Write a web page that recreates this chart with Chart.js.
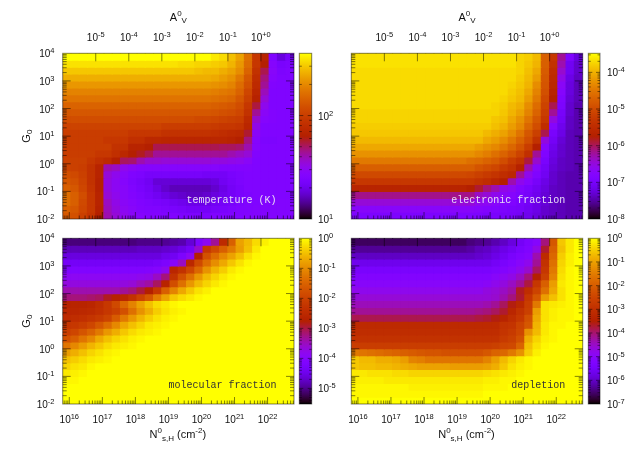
<!DOCTYPE html>
<html>
<head>
<meta charset="utf-8">
<style>
  html, body { margin: 0; background: #fff; }
  #page { position: relative; width: 628px; height: 450px; overflow: hidden; filter: blur(0.4px); }
  canvas { position: absolute; left: 0; top: 0; }
</style>
<script src="https://cdn.jsdelivr.net/npm/chart.js@4"></script>
</head>
<body>
<div id="page"></div>
<script>
// cell edges in log10, columns left to right, rows top to bottom
const logNEdges = [15.8,16.05,16.3,16.55,16.8,17.05,17.3,17.55,17.8,18.05,18.3,18.55,18.8,19.05,19.3,19.55,19.8,20.05,20.3,20.55,20.8,21.05,21.3,21.55,21.8,22.05,22.3,22.55,22.8];
const logG0Edges = [4,3.75,3.5,3.25,3,2.75,2.5,2.25,2,1.75,1.5,1.25,1,0.75,0.5,0.25,0,-0.25,-0.5,-0.75,-1,-1.25,-1.5,-1.75,-2];

// tick exponents
const nTicks = ['16','17','18','19','20','21','22'];
const avTicks = ['-5','-4','-3','-2','-1','+0'];
const g0Ticks = ['-2','-1','0','1','2','3','4'];
const temperatureTicks = ['1','2'];
const electronTicks = ['-8','-7','-6','-5','-4'];
const molecularTicks = ['-5','-4','-3','-2','-1','0'];
const depletionTicks = ['-7','-6','-5','-4','-3','-2','-1','0'];

// colour bar ranges, log10
const temperatureRange = [1, 2.602];
const electronRange = [-8, -3.48];
const molecularRange = [-5.52, 0];
const depletionRange = [-7, 0];

// cell values, as percent of the colour bar's log range
const temperatureCells = [
[100,100,100,100,100,100,100,100,100,100,100,100,100,100,100,100,100,100,97,95,91,86,76,60,52,25,17,22],
[96,96,96,96,96,96,96,96,96,96,96,96,96,96,95,95,94,94,93,92,89,84,75,60,50,27,23,24],
[92,92,92,92,92,92,92,92,92,92,92,92,92,92,92,92,91,90,90,88,86,82,73,58,45,28,24,25],
[88,88,88,88,88,88,88,88,88,88,88,88,88,88,88,88,88,88,87,85,83,78,70,56,42,27,25,25],
[84,84,84,84,84,84,84,84,84,84,84,84,84,84,84,84,84,84,83,82,80,75,68,55,40,26,25,25],
[80,80,80,80,80,80,80,80,80,80,80,80,80,80,80,80,80,80,79,78,77,73,65,53,37,25,25,25],
[77,77,77,77,77,77,77,77,77,77,77,77,77,77,77,77,77,77,76,75,74,70,63,51,34,25,25,25],
[73,73,73,73,73,73,73,73,73,73,73,73,73,73,73,73,73,73,72,71,70,67,60,46,31,25,25,25],
[70,70,70,70,70,70,70,70,70,70,70,70,70,70,70,70,70,70,69,68,67,65,58,40,29,26,25,25],
[67,67,67,67,67,67,67,67,67,67,67,67,67,67,67,67,66,66,65,64,63,62,55,35,27,26,25,25],
[64,64,64,64,64,64,64,64,64,64,64,64,62,62,62,62,62,62,61,60,60,59,53,32,25,25,25,25],
[62,62,62,62,62,62,62,62,60,60,60,60,58,58,58,58,58,58,57,56,55,54,47,29,25,25,25,25],
[62,62,62,62,62,60,60,60,57,57,54,54,53,53,53,53,53,53,53,53,52,50,42,27,24,24,25,25],
[62,62,62,62,62,62,58,58,52,52,50,45,45,45,45,45,45,45,45,44,44,43,38,27,25,25,25,25],
[62,62,62,62,60,60,57,54,50,48,45,40,40,40,40,40,40,40,40,40,38,36,34,26,25,25,25,25],
[63,63,63,60,57,55,50,44,43,38,35,35,34,34,34,34,34,34,33,33,32,31,29,25,25,25,25,25],
[64,63,62,58,52,38,36,31,29,27,27,27,27,27,27,27,27,27,27,26,26,26,26,25,25,25,25,25],
[68,66,63,58,52,34,31,28,25,24,22,22,22,22,22,22,22,21,21,21,23,24,25,25,25,25,25,25],
[70,68,64,58,51,33,30,27,24,22,20,16,16,16,16,16,16,16,17,20,22,24,25,25,25,25,25,25],
[72,70,65,59,51,33,30,28,25,23,21,18,15,13,13,13,13,13,15,18,21,23,25,25,25,25,25,25],
[75,72,67,60,52,34,31,28,26,24,22,20,18,16,15,14,14,15,17,19,21,23,24,25,25,25,25,25],
[75,72,66,60,52,36,32,29,27,25,24,23,22,20,19,18,18,18,20,21,22,24,25,25,26,26,26,26],
[72,70,65,60,51,37,33,30,28,26,25,25,24,23,22,21,21,21,22,23,24,25,25,26,26,26,26,26],
[70,68,63,59,50,38,34,31,29,27,26,26,25,25,24,24,24,24,25,25,25,25,26,26,26,26,26,26]
];
const electronCells = [
[96,96,96,96,96,96,96,96,96,96,96,96,96,96,96,96,96,96,96,96,94,93,90,72,60,40,25,17],
[96,96,96,96,96,96,96,96,96,96,96,96,96,96,96,96,96,96,96,96,94,92,89,72,58,38,20,15],
[95,95,95,95,95,95,95,95,95,95,95,95,95,95,95,95,95,95,95,95,94,91,87,71,56,35,20,15],
[95,95,95,95,95,95,95,95,95,95,95,95,95,95,95,95,95,95,95,95,93,90,85,70,55,32,18,14],
[95,95,95,95,95,95,95,95,95,95,95,95,95,95,95,95,95,95,95,94,92,89,82,69,54,29,17,13],
[95,95,95,95,95,95,95,95,95,95,95,95,95,95,95,95,95,95,95,93,91,87,80,68,52,27,17,13],
[95,95,95,95,95,95,95,95,95,95,95,95,95,95,95,95,95,95,94,92,90,85,78,66,50,25,16,13],
[95,95,95,95,95,95,95,95,95,95,95,95,95,95,95,95,95,94,93,90,88,82,75,64,45,24,15,12],
[94,94,94,94,94,94,94,94,94,94,94,94,94,94,94,94,94,94,92,89,86,80,73,62,40,22,15,12],
[94,94,94,94,94,94,94,94,94,94,94,94,94,94,94,94,94,92,91,87,83,77,70,60,33,21,14,12],
[93,93,93,93,93,93,93,93,93,93,93,93,93,93,93,93,93,91,89,85,81,74,67,56,27,19,14,12],
[92,92,92,92,92,92,92,92,92,92,92,92,92,92,92,92,90,88,86,82,77,70,63,45,23,18,13,12],
[90,90,90,90,90,90,90,90,90,90,90,90,90,90,90,90,87,85,82,78,73,67,58,33,21,16,13,12],
[87,87,87,87,87,87,87,87,87,87,87,87,87,87,87,85,83,81,78,74,69,62,50,27,19,15,13,12],
[83,83,83,83,83,83,83,83,83,83,83,83,83,83,83,81,79,76,73,69,64,57,40,25,18,15,13,12],
[78,78,78,78,78,78,78,78,78,78,78,78,78,78,76,75,73,71,67,62,58,46,35,23,17,14,13,12],
[72,72,72,72,72,72,72,72,72,72,72,72,72,72,72,69,67,65,61,58,51,38,28,21,16,14,13,12],
[66,66,66,66,66,66,66,66,66,66,66,66,66,66,65,63,61,59,56,54,40,31,25,20,15,13,12,12],
[60,60,60,60,60,60,60,60,60,60,60,60,60,60,60,58,56,53,50,38,31,27,22,18,15,13,12,12],
[52,52,52,52,52,52,52,52,52,52,52,52,52,52,50,47,42,38,32,30,26,23,20,17,14,13,12,12],
[41,41,41,41,41,41,41,41,41,41,41,41,41,41,41,36,34,31,29,27,24,22,19,16,14,13,12,12],
[34,34,34,34,34,34,34,34,34,34,34,34,34,34,34,31,30,28,26,25,23,21,18,16,14,13,12,12],
[28,28,28,28,28,28,28,28,28,28,28,28,28,28,28,27,26,25,24,23,22,20,18,15,14,13,12,12],
[24,24,24,24,24,24,24,24,24,24,24,24,24,24,24,24,23,23,22,22,21,19,17,15,14,13,12,12]
];
const molecularCells = [
[8,8,8,8,8,8,8,8,8,9,9,9,10,11,12,16,24,30,40,55,72,86,90,95,98,100,100,100],
[13,13,13,13,13,13,13,13,13,14,14,14,15,16,18,21,35,60,66,72,78,85,91,97,100,100,100,100],
[17,17,17,17,17,17,17,17,17,17,17,17,19,20,24,30,50,68,75,81,86,91,96,99,100,100,100,100],
[21,21,21,21,21,21,21,21,21,21,21,22,24,28,36,54,66,75,82,87,92,96,99,100,100,100,100,100],
[25,25,25,25,25,25,25,25,25,25,26,27,31,53,58,65,74,83,89,93,97,99,100,100,100,100,100,100],
[30,30,30,30,30,30,30,30,30,31,32,36,42,58,68,76,84,90,94,97,99,100,100,100,100,100,100,100],
[33,33,33,33,33,33,33,33,34,37,39,44,52,67,76,84,90,94,97,99,100,100,100,100,100,100,100,100],
[38,38,38,38,38,38,38,40,42,46,50,60,72,80,87,92,96,98,100,100,100,100,100,100,100,100,100,100],
[42,42,42,43,44,48,51,53,58,64,70,79,86,92,95,97,99,100,100,100,100,100,100,100,100,100,100,100],
[51,52,52,53,56,60,66,74,80,86,91,95,97,99,100,100,100,100,100,100,100,100,100,100,100,100,100,100],
[53,53,54,55,57,60,63,68,76,83,88,93,96,98,99,100,100,100,100,100,100,100,100,100,100,100,100,100],
[55,56,57,59,61,64,71,78,84,89,93,96,98,99,100,100,100,100,100,100,100,100,100,100,100,100,100,100],
[59,60,62,65,70,75,81,87,91,94,97,98,99,100,100,100,100,100,100,100,100,100,100,100,100,100,100,100],
[62,65,69,73,78,84,88,92,95,97,98,99,100,100,100,100,100,100,100,100,100,100,100,100,100,100,100,100],
[68,72,77,81,87,91,94,96,98,99,100,100,100,100,100,100,100,100,100,100,100,100,100,100,100,100,100,100],
[77,81,85,89,92,95,97,98,99,100,100,100,100,100,100,100,100,100,100,100,100,100,100,100,100,100,100,100],
[85,88,91,94,96,98,99,100,100,100,100,100,100,100,100,100,100,100,100,100,100,100,100,100,100,100,100,100],
[91,93,95,97,98,99,100,100,100,100,100,100,100,100,100,100,100,100,100,100,100,100,100,100,100,100,100,100],
[94,96,97,99,100,100,100,100,100,100,100,100,100,100,100,100,100,100,100,100,100,100,100,100,100,100,100,100],
[97,98,99,100,100,100,100,100,100,100,100,100,100,100,100,100,100,100,100,100,100,100,100,100,100,100,100,100],
[99,99,100,100,100,100,100,100,100,100,100,100,100,100,100,100,100,100,100,100,100,100,100,100,100,100,100,100],
[100,100,100,100,100,100,100,100,100,100,100,100,100,100,100,100,100,100,100,100,100,100,100,100,100,100,100,100],
[100,100,100,100,100,100,100,100,100,100,100,100,100,100,100,100,100,100,100,100,100,100,100,100,100,100,100,100],
[100,100,100,100,100,100,100,100,100,100,100,100,100,100,100,100,100,100,100,100,100,100,100,100,100,100,100,100]
];
const depletionCells = [
[6,6,6,6,6,6,6,6,6,6,6,6,6,6,8,9,10,12,14,17,21,24,27,42,70,92,97,100],
[10,10,10,10,10,10,10,10,10,10,10,10,10,10,11,13,14,16,18,20,23,25,32,47,72,91,97,100],
[14,14,14,14,14,14,14,14,14,14,14,14,14,14,14,15,16,18,20,23,25,27,38,55,74,93,98,100],
[19,19,19,19,19,19,19,19,19,19,19,19,19,19,19,19,19,21,23,25,28,31,40,58,76,94,98,100],
[23,23,23,23,23,23,23,23,23,23,23,23,23,23,23,23,23,24,26,28,31,35,44,60,78,95,99,100],
[26,26,26,26,26,26,26,26,26,26,26,26,26,26,26,26,26,28,30,32,36,42,50,63,80,96,99,100],
[28,28,28,28,28,28,28,28,28,28,28,28,28,28,28,28,29,31,33,36,40,46,60,72,85,97,99,100],
[31,31,31,31,31,31,31,31,31,31,31,31,31,31,31,31,33,34,36,39,48,56,64,76,87,96,99,100],
[34,34,34,34,34,34,34,34,34,34,34,34,34,34,34,34,34,35,38,42,47,60,70,85,91,96,99,100],
[37,37,37,37,37,37,37,37,37,37,37,37,37,37,37,37,38,40,44,49,54,62,78,96,97,98,99,100],
[40,40,40,40,40,40,40,40,40,40,40,40,40,40,40,41,42,44,47,53,58,63,85,96,98,99,99,100],
[45,45,45,45,45,45,45,45,45,45,45,45,45,45,45,46,47,49,52,56,60,68,87,96,98,99,99,100],
[55,55,55,55,55,55,55,55,55,55,55,55,55,55,55,55,55,55,58,59,64,70,89,97,99,99,100,100],
[56,56,56,56,56,56,56,56,56,56,56,56,56,56,56,56,56,56,59,61,65,83,90,97,99,100,100,100],
[58,58,58,58,58,58,58,58,58,58,58,58,58,58,58,58,58,58,61,63,68,88,94,98,99,100,100,100],
[62,62,62,62,62,62,62,62,62,62,62,62,62,62,62,62,62,63,65,66,73,91,96,99,100,100,100,100],
[78,77,76,75,74,73,72,71,70,69,69,68,68,68,68,68,70,73,74,78,83,93,98,100,100,100,100,100],
[92,90,90,88,88,87,85,80,79,77,77,77,77,77,77,77,80,85,90,94,97,99,100,100,100,100,100,100],
[92,91,91,90,90,89,88,87,86,86,86,86,85,85,85,85,86,88,92,96,98,99,100,100,100,100,100,100],
[97,97,96,96,96,95,95,94,94,94,94,94,94,94,94,94,95,96,97,98,99,100,100,100,100,100,100,100],
[98,98,98,98,97,97,97,97,97,97,97,97,97,97,97,97,98,98,99,99,100,100,100,100,100,100,100,100],
[99,99,99,99,99,99,99,98,98,98,98,98,98,98,98,98,99,99,99,100,100,100,100,100,100,100,100,100],
[99,99,99,99,99,99,99,99,99,99,99,99,99,99,99,99,100,100,100,100,100,100,100,100,100,100,100,100],
[100,100,100,100,100,100,100,100,100,100,100,100,100,100,100,100,100,100,100,100,100,100,100,100,100,100,100,100]
];

const SANS = '"Liberation Sans"';
const TICK_COLOR = 'rgba(0,0,0,0.7)';
const BORDER_COLOR = 'rgba(0,0,0,0.5)';

// gnuplot rgbformulae 7,5,15
function paletteColor(t) {
    const r = Math.sqrt(t);
    const g = t * t * t;
    const b = Math.max(0, Math.sin(2 * Math.PI * t));
    return `rgb(${Math.round(r * 255)},${Math.round(g * 255)},${Math.round(b * 255)})`;
}

// draws a run of text pieces with their own size and vertical shift
function drawRich(ctx, parts, x, y, align) {
    let total = 0;
    parts.forEach(p => {
        ctx.font = `${p.size}px ${SANS}`;
        total += ctx.measureText(p.text).width;
    });
    let px = align === 'right' ? x - total : align === 'center' ? x - total / 2 : x;
    ctx.textAlign = 'left';
    ctx.textBaseline = 'alphabetic';
    ctx.fillStyle = '#111';
    parts.forEach(p => {
        ctx.font = `${p.size}px ${SANS}`;
        ctx.fillText(p.text, px, y + (p.dy || 0));
        px += ctx.measureText(p.text).width;
    });
}

function powerParts(exp) {
    return [{ text: '10', size: 10 }, { text: exp, size: 7.5, dy: -4 }];
}

function isLogInteger(v) {
    const l = Math.log10(v);
    return Math.abs(l - Math.round(l)) < 1e-6;
}

function isCleanMantissa(v) {
    const m = v / Math.pow(10, Math.floor(Math.log10(v) + 1e-9));
    return Math.abs(m - Math.round(m)) < 0.02;
}

function line(ctx, x1, y1, x2, y2) {
    ctx.beginPath();
    ctx.moveTo(x1, y1);
    ctx.lineTo(x2, y2);
    ctx.stroke();
}

// inward ticks, taken from the scale's own tick list
function drawInwardTicks(ctx, scale, area, major, minor, sides, skipMinor) {
    ctx.strokeStyle = TICK_COLOR;
    ctx.lineWidth = 0.7;
    scale.ticks.forEach(tick => {
        const v = tick.value;
        if (!isCleanMantissa(v)) return;
        const isMajor = isLogInteger(v);
        if (skipMinor && !isMajor) return;
        const p = scale.getPixelForValue(v);
        const len = isMajor ? major : minor;
        if (scale.isHorizontal()) {
            if (p <= area.left + 0.5 || p >= area.right - 0.5) return;
            if (sides.includes('top')) line(ctx, p, area.top, p, area.top + len);
            if (sides.includes('bottom')) line(ctx, p, area.bottom, p, area.bottom - len);
        } else {
            if (p <= area.top + 0.5 || p >= area.bottom - 0.5) return;
            if (sides.includes('left')) line(ctx, area.left, p, area.left + len, p);
            if (sides.includes('right')) line(ctx, area.right, p, area.right - len, p);
        }
    });
}

function drawBorder(ctx, area) {
    ctx.strokeStyle = BORDER_COLOR;
    ctx.lineWidth = 1;
    ctx.strokeRect(area.left, area.top, area.right - area.left, area.bottom - area.top);
}

function newCanvas() {
    const canvas = document.createElement('canvas');
    canvas.width = 628;
    canvas.height = 450;
    canvas.style.width = '628px';
    canvas.style.height = '450px';
    document.getElementById('page').appendChild(canvas);
    return canvas.getContext('2d');
}

const framePadding = box => ({
    left: box.left, top: box.top, right: 628 - box.right, bottom: 450 - box.bottom
});

function drawHeatmap(cells, box, opts) {
    const datasets = cells.map((row, r) => ({
        data: row.map((_, c) => ({
            x: Math.pow(10, (logNEdges[c] + logNEdges[c + 1]) / 2),
            y: [Math.pow(10, logG0Edges[r + 1]), Math.pow(10, logG0Edges[r])]
        })),
        backgroundColor: row.map(v => paletteColor(v / 100)),
        borderWidth: 0,
        inflateAmount: 0.6, // no seams between the cells
        grouped: false,
        // the log scale's minor ticks would otherwise shrink the fitted width
        barThickness: (box.right - box.left) / row.length
    }));

    const panelAxes = {
        id: 'panelAxes',
        afterDraw(chart) {
            const { ctx, chartArea: area, scales } = chart;
            ctx.save();
            drawBorder(ctx, area);
            drawInwardTicks(ctx, scales.y, area, 8, 4, ['left', 'right']);
            drawInwardTicks(ctx, scales.x, area, 7, 3.5, ['bottom']);
            drawInwardTicks(ctx, scales.av, area, 8, 0, ['top'], true);
            if (opts.topLabels) {
                avTicks.forEach(e => {
                    const p = scales.av.getPixelForValue(Math.pow(10, Number(e)));
                    drawRich(ctx, powerParts(e), p, 40.5, 'center');
                });
                drawRich(ctx, [
                    { text: 'A', size: 11 },
                    { text: '0', size: 8, dy: -5 },
                    { text: 'V', size: 8, dy: 2.5 }
                ], (area.left + area.right) / 2, 20.5, 'center');
            }
            if (opts.bottomLabels) {
                nTicks.forEach(e => {
                    const p = scales.x.getPixelForValue(Math.pow(10, Number(e)));
                    drawRich(ctx, powerParts(e), p, 422.5, 'center');
                });
                drawRich(ctx, [
                    { text: 'N', size: 11 },
                    { text: '0', size: 8, dy: -5 },
                    { text: 's,H', size: 8, dy: 2.5 },
                    { text: ' (cm', size: 11 },
                    { text: '-2', size: 8, dy: -5 },
                    { text: ')', size: 11 }
                ], (area.left + area.right) / 2 - 0.5, 438, 'center');
            }
            if (opts.leftLabels) {
                g0Ticks.forEach(e => {
                    const p = scales.y.getPixelForValue(Math.pow(10, Number(e)));
                    drawRich(ctx, powerParts(e), 54.5, p + 4, 'right');
                });
                ctx.save();
                ctx.translate(29.5, (area.top + area.bottom) / 2);
                ctx.rotate(-Math.PI / 2);
                drawRich(ctx, [
                    { text: 'G', size: 11 },
                    { text: '0', size: 8, dy: 2.5 }
                ], 0, 0, 'center');
                ctx.restore();
            }
            ctx.font = '10px "Liberation Mono"';
            ctx.textAlign = 'right';
            ctx.textBaseline = 'alphabetic';
            ctx.fillStyle = opts.noteColor;
            ctx.fillText(opts.note, area.right - 17.5, opts.noteY);
            ctx.restore();
        }
    };

    return new Chart(newCanvas(), {
        type: 'bar',
        data: { datasets },
        plugins: [panelAxes],
        options: {
            responsive: false,
            animation: false,
            events: [],
            layout: { padding: framePadding(box) },
            plugins: { legend: { display: false }, tooltip: { enabled: false } },
            scales: {
                x: {
                    type: 'logarithmic', display: false, offset: false,
                    min: Math.pow(10, logNEdges[0]), max: Math.pow(10, logNEdges[28]),
                    ticks: { autoSkip: false }
                },
                y: {
                    type: 'logarithmic', display: false,
                    min: 1e-2, max: 1e4,
                    ticks: { autoSkip: false }
                },
                av: {
                    axis: 'x', type: 'logarithmic', position: 'top', display: false,
                    min: 1e-6, max: 10,
                    ticks: { autoSkip: false }
                }
            }
        }
    });
}

function drawColorBar(range, tickExps, box, labelX) {
    const barAxes = {
        id: 'barAxes',
        afterDraw(chart) {
            const { ctx, chartArea: area, scales } = chart;
            ctx.save();
            drawInwardTicks(ctx, scales.y, area, 4, 2.5, ['left', 'right']);
            drawBorder(ctx, area);
            tickExps.forEach(e => {
                const p = scales.y.getPixelForValue(Math.pow(10, Number(e)));
                drawRich(ctx, powerParts(e), labelX, p + 4, 'left');
            });
            ctx.restore();
        }
    };

    const lo = Math.pow(10, range[0]);
    const hi = Math.pow(10, range[1]);
    return new Chart(newCanvas(), {
        type: 'bar',
        data: {
            labels: ['cb'],
            datasets: [{
                data: [[lo, hi]],
                borderWidth: 0,
                barPercentage: 1,
                categoryPercentage: 1,
                backgroundColor(c) {
                    const area = c.chart.chartArea;
                    if (!area) return '#000';
                    const g = c.chart.ctx.createLinearGradient(0, area.bottom, 0, area.top);
                    for (let i = 0; i <= 64; i++) g.addColorStop(i / 64, paletteColor(i / 64));
                    return g;
                }
            }]
        },
        plugins: [barAxes],
        options: {
            responsive: false,
            animation: false,
            events: [],
            layout: { padding: framePadding(box) },
            plugins: { legend: { display: false }, tooltip: { enabled: false } },
            scales: {
                x: { display: false },
                y: { type: 'logarithmic', display: false, min: lo, max: hi, ticks: { autoSkip: false } }
            }
        }
    });
}

const ROW1 = { top: 53.3, bottom: 219 };
const ROW2 = { top: 238.3, bottom: 404 };
const COL1 = { left: 62.7, right: 294 };
const COL2 = { left: 351.3, right: 582.7 };
const BAR1 = { left: 299.3, right: 311.7 };
const BAR2 = { left: 588.3, right: 600 };

drawHeatmap(temperatureCells, { ...COL1, ...ROW1 }, {
    topLabels: true, leftLabels: true, note: 'temperature (K)', noteColor: '#e6dcf5', noteY: 203
});
drawHeatmap(electronCells, { ...COL2, ...ROW1 }, {
    topLabels: true, note: 'electronic fraction', noteColor: '#e6dcf5', noteY: 203
});
drawHeatmap(molecularCells, { ...COL1, ...ROW2 }, {
    bottomLabels: true, leftLabels: true, note: 'molecular fraction', noteColor: '#333', noteY: 388
});
drawHeatmap(depletionCells, { ...COL2, ...ROW2 }, {
    bottomLabels: true, note: 'depletion', noteColor: '#333', noteY: 388
});
drawColorBar(temperatureRange, temperatureTicks, { ...BAR1, ...ROW1 }, 318);
drawColorBar(electronRange, electronTicks, { ...BAR2, ...ROW1 }, 607);
drawColorBar(molecularRange, molecularTicks, { ...BAR1, ...ROW2 }, 318);
drawColorBar(depletionRange, depletionTicks, { ...BAR2, ...ROW2 }, 607);
</script>
</body>
</html>
